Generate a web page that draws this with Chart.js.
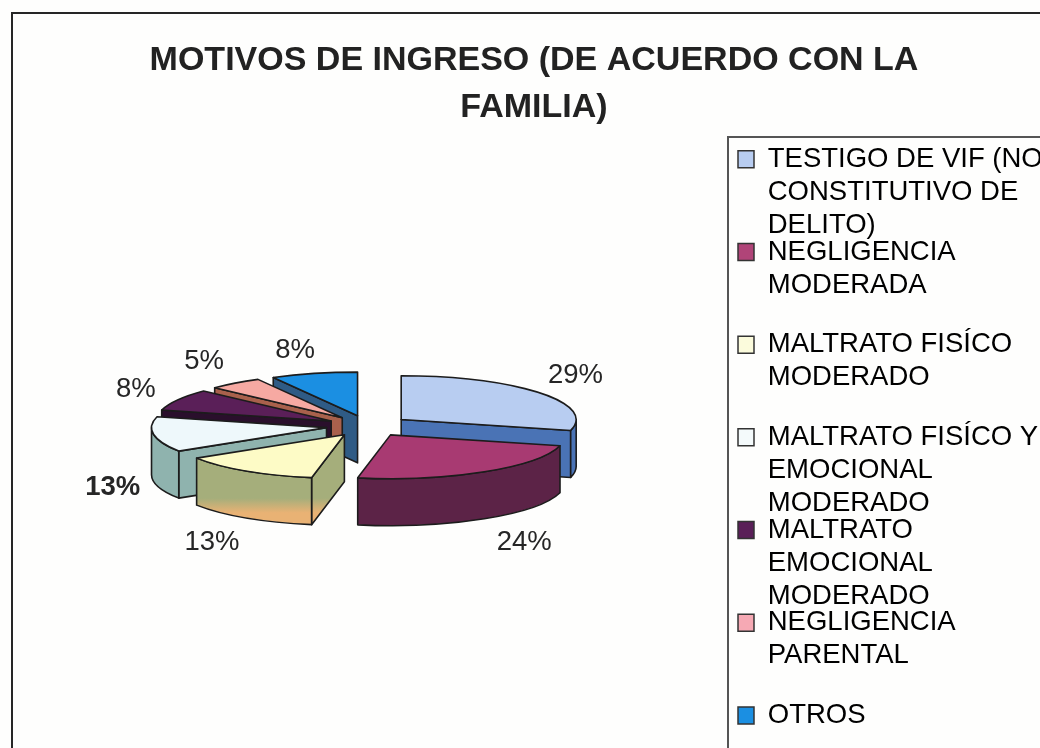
<!DOCTYPE html>
<html><head><meta charset="utf-8">
<style>html,body{margin:0;padding:0;background:#fefefd;overflow:hidden;width:1040px;height:748px}
#wrap{width:1040px;height:748px;overflow:hidden;position:relative}canvas{display:block}</style>
<script src="https://cdn.jsdelivr.net/npm/chart.js@4"></script></head>
<body><div id="wrap"><canvas id="c" width="1068" height="748" style="width:1068px;height:748px"></canvas></div>
<script>
const titleLines = ["MOTIVOS DE INGRESO (DE ACUERDO CON LA", "FAMILIA)"];
const categories = ["TESTIGO DE VIF (NO CONSTITUTIVO DE DELITO)", "NEGLIGENCIA MODERADA", "MALTRATO FISÍCO MODERADO", "MALTRATO FISÍCO Y EMOCIONAL MODERADO", "MALTRATO EMOCIONAL MODERADO", "NEGLIGENCIA PARENTAL", "OTROS"];
const legendLines = [
  ["TESTIGO DE VIF (NO", "CONSTITUTIVO DE", "DELITO)"],
  ["NEGLIGENCIA", "MODERADA", ""],
  ["MALTRATO FISÍCO", "MODERADO", ""],
  ["MALTRATO FISÍCO Y", "EMOCIONAL", "MODERADO"],
  ["MALTRATO", "EMOCIONAL", "MODERADO"],
  ["NEGLIGENCIA", "PARENTAL", ""],
  ["OTROS"]
];
const percentages = [29, 24, 13, 13, 8, 5, 8];
const topColors = ["#b8cdf1", "#a83a72", "#fdfbc6", "#eef8fb", "#5a1f58", "#f6a9a2", "#1b8fe2"];
const legendColors = ["#b8cdf1", "#b04478", "#fbfbdc", "#f4fafb", "#5a1f58", "#f6a9b4", "#1b8fe2"];
const wallColors = ["#4a73b5", "#5c2347", "#a5ae7b", "#8fb3ae", "#2a0f2c", "#a9614c", "#2f5b85"];
const wallLowColors = ["#4a73b5", "#5c2347", "#e9b274", "#8fb3ae", "#2a0f2c", "#a9614c", "#2f5b85"];
const boldLabels = [false, false, false, true, false, false, false];
const labelNudgeX = [36, 40, -34, -41, -42, -31, -19];
const labelNudgeY = [-17, 71, 72, 53, -10, -22, -23];

const PIE_X = 368, PIE_Y = 426, SQUASH = 0.25, DEPTH = 47, SHIFT = 42, RADIUS = 175;

const pie3d = {
  id: 'pie3d',
  afterLayout(chart) {
    const lg = chart.legend;
    lg.left = 744.3; lg.top = 151.8;
    lg.draw = function () { this._draw(); };
  },
  beforeDraw(chart) {
    const g = chart.ctx;
    g.save();
    g.strokeStyle = '#262626'; g.lineWidth = 2;
    g.strokeRect(12, 13, 1200, 900);
    g.strokeStyle = '#555'; 
    g.strokeRect(728, 137, 600, 900);
    g.restore();
  },
  beforeDatasetsDraw(chart) {
    const g = chart.ctx;
    const arcs = chart.getDatasetMeta(0).data;
    const order = arcs.map((a, i) => i).sort((p, q) => {
      const mp = (arcs[p].startAngle + arcs[p].endAngle) / 2, mq = (arcs[q].startAngle + arcs[q].endAngle) / 2;
      return Math.sin(mp) - Math.sin(mq);
    });
    const paintWall = (i, ax, ay) => {
      const gr = g.createLinearGradient(0, ay, 0, ay + RADIUS * SQUASH + DEPTH);
      gr.addColorStop(0, wallColors[i]); gr.addColorStop(0.7, wallColors[i]);
      gr.addColorStop(0.86, wallLowColors[i]); gr.addColorStop(1, wallLowColors[i]);
      g.fillStyle = gr; g.fill(); g.stroke();
    };
    order.forEach(i => {
      const a = arcs[i], s = a.startAngle, e = a.endAngle, mid = (s + e) / 2;
      const ax = PIE_X + Math.cos(mid) * SHIFT, ay = PIE_Y + Math.sin(mid) * SHIFT * SQUASH;
      const rx = (t) => ax + Math.cos(t) * RADIUS, ry = (t) => ay + Math.sin(t) * RADIUS * SQUASH;
      g.save();
      g.strokeStyle = '#1c1c1c'; g.lineWidth = 1.6; g.lineJoin = 'round';
      [[s, Math.sin(s - Math.PI / 2)], [e, Math.sin(e + Math.PI / 2)]].forEach(([t, facing]) => {
        if (facing <= 0) return;
        g.beginPath(); g.moveTo(ax, ay); g.lineTo(rx(t), ry(t)); g.lineTo(rx(t), ry(t) + DEPTH); g.lineTo(ax, ay + DEPTH); g.closePath();
        paintWall(i, ax, ay);
      });
      const c0 = Math.max(s, 0), c1 = Math.min(e, Math.PI);
      if (c1 > c0) {
        g.beginPath();
        g.ellipse(ax, ay, RADIUS, RADIUS * SQUASH, 0, c0, c1);
        g.lineTo(rx(c1), ry(c1) + DEPTH);
        g.ellipse(ax, ay + DEPTH, RADIUS, RADIUS * SQUASH, 0, c1, c0, true);
        g.closePath();
        paintWall(i, ax, ay);
      }
      g.restore();
      g.save();
      g.translate(ax - a.x, ay); g.scale(1, SQUASH); g.translate(0, -a.y);
      a.draw(g);
      g.restore();
      g.save();
      g.strokeStyle = '#1c1c1c'; g.lineWidth = 1.6; g.lineJoin = 'round';
      g.beginPath(); g.moveTo(ax, ay); g.ellipse(ax, ay, RADIUS, RADIUS * SQUASH, 0, s, e); g.closePath(); g.stroke();
      g.restore();
    });
    arcs.forEach((a, i) => {
      const mid = (a.startAngle + a.endAngle) / 2;
      const ax = PIE_X + Math.cos(mid) * SHIFT, ay = PIE_Y + Math.sin(mid) * SHIFT * SQUASH;
      const lx = ax + Math.cos(mid) * RADIUS + labelNudgeX[i], ly = ay + Math.sin(mid) * RADIUS * SQUASH + labelNudgeY[i];
      g.save();
      g.font = (boldLabels[i] ? 'bold ' : '') + '27.5px "Liberation Sans"';
      g.fillStyle = '#262626'; g.textAlign = 'center'; g.textBaseline = 'middle';
      g.fillText(percentages[i] + '%', lx, ly);
      g.restore();
    });
    return false;
  }
};

new Chart(document.getElementById('c'), {
  type: 'pie',
  data: {
    labels: categories,
    datasets: [{ data: percentages, backgroundColor: topColors, borderWidth: 0, radius: RADIUS }]
  },
  options: {
    responsive: false, animation: false, devicePixelRatio: 1,
    layout: { padding: 0 },
    plugins: {
      tooltip: { enabled: false },
      title: {
        display: true, text: titleLines, color: '#222',
        font: { family: '"Liberation Sans"', size: 34, weight: 'bold', lineHeight: 1.38 },
        padding: { top: 37, bottom: 16 }
      },
      legend: {
        display: true, position: 'right', align: 'start',
        labels: {
          color: '#262626', boxWidth: 16, boxHeight: 17, padding: -6.3,
          font: { family: '"Liberation Sans"', size: 27.5, lineHeight: 1.2 },
          generateLabels: () => legendLines.map((t, i) => ({
            text: t, fillStyle: legendColors[i], strokeStyle: '#333', lineWidth: 1.5, index: i, hidden: false
          }))
        }
      }
    }
  },
  plugins: [pie3d]
});
</script></body></html>
